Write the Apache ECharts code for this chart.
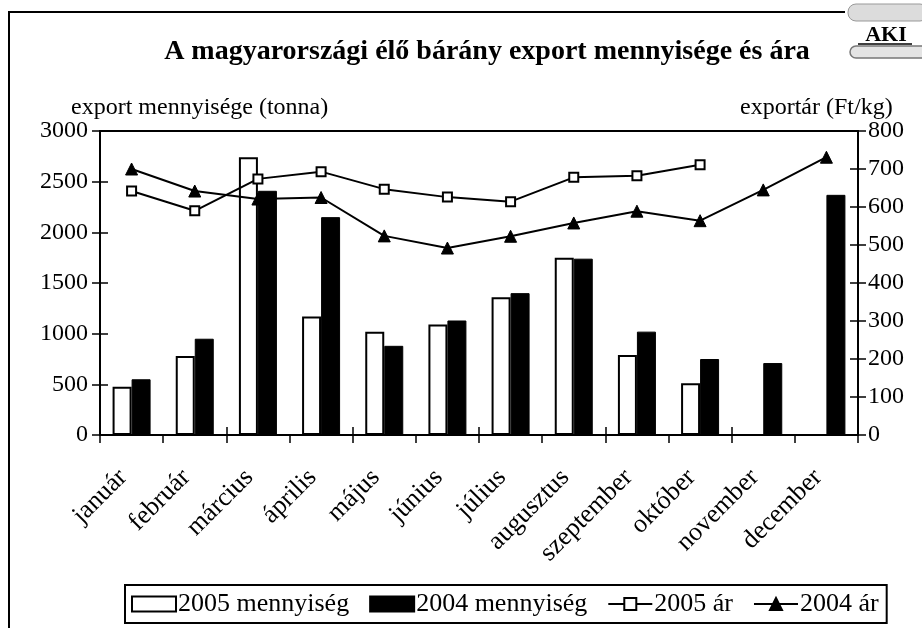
<!DOCTYPE html>
<html>
<head>
<meta charset="utf-8">
<script src="https://cdn.jsdelivr.net/npm/echarts@6/dist/echarts.min.js"></script>
<style>html,body{margin:0;padding:0;background:#fff}#c{width:922px;height:628px}</style>
</head>
<body>
<div id="c"></div>
<script>
const months = ['január','február','március','április','május','június','július','augusztus','szeptember','október','november','december'];
const qty2005 = [475, 780, 2740, 1170, 1020, 1090, 1360, 1750, 790, 510, null, null];
const qty2004 = [550, 950, 2410, 2150, 880, 1130, 1400, 1740, 1020, 750, 710, 2370];
const price2005 = [642, 590, 674, 693, 647, 626, 614, 678, 682, 711, null, null];
const price2004 = [700, 642, 621, 625, 524, 492, 523, 558, 589, 564, 645, 731];
const leftTicks = {min: 0, max: 3000, interval: 500};
const rightTicks = {min: 0, max: 800, interval: 100};
const titleText = 'A magyarországi élő bárány export mennyisége és ára';
const leftName = 'export mennyisége (tonna)';
const rightName = 'exportár (Ft/kg)';
const names = ['2005 mennyiség', '2004 mennyiség', '2005 ár', '2004 ár'];

const FONT = 'Liberation Serif, Times New Roman, serif';
const chart = echarts.init(document.getElementById('c'), null, {renderer: 'canvas'});
const tickStyle = {color: '#000', width: 1.5};
const hiddenAxis = {axisLine: {show: false}, axisLabel: {show: false}, splitLine: {show: false}};
const plain = v => String(v);
chart.setOption({
  backgroundColor: '#fff',
  animation: false,
  textStyle: {fontFamily: FONT, color: '#000'},
  title: [
    {text: titleText, left: 482, top: 33, textAlign: 'center', textStyle: {fontFamily: FONT, fontSize: 28, fontWeight: 'bold', color: '#000'}},
    {text: leftName, left: 66, top: 91, textStyle: {fontFamily: FONT, fontSize: 24, fontWeight: 'normal', color: '#000'}},
    {text: rightName, left: 735, top: 91, textStyle: {fontFamily: FONT, fontSize: 24, fontWeight: 'normal', color: '#000'}}
  ],
  grid: {left: 100, right: 64, top: 131, bottom: 193, show: true, borderColor: '#000', borderWidth: 2, backgroundColor: 'transparent'},
  legend: {
    left: 125, top: 585, padding: [6, 8, 6, 6], itemGap: 20,
    borderColor: '#000', borderWidth: 2, itemWidth: 44, itemHeight: 15,
    textStyle: {fontFamily: FONT, fontSize: 26, color: '#000', padding: [0, 0, 0, -3]},
    data: [
      {name: names[0], icon: 'rect'},
      {name: names[1], icon: 'rect'},
      {name: names[2]},
      {name: names[3]}
    ]
  },
  xAxis: [
    {type: 'category', data: months, position: 'bottom', boundaryGap: true,
     axisLine: {lineStyle: {color: '#000', width: 2}},
     axisTick: {show: true, length: 8, lineStyle: tickStyle},
     axisLabel: {rotate: 45, fontFamily: FONT, fontSize: 26, color: '#000', margin: 30, padding: [0, 12, 0, 0], interval: 0},
     splitLine: {show: false}},
    Object.assign({type: 'category', data: months, position: 'bottom', boundaryGap: true,
     axisTick: {show: true, inside: true, length: 8, lineStyle: tickStyle}}, hiddenAxis)
  ],
  yAxis: [
    {type: 'value', position: 'left', min: leftTicks.min, max: leftTicks.max, interval: leftTicks.interval,
     axisLine: {show: true, lineStyle: {color: '#000', width: 2}},
     axisTick: {show: true, length: 8, lineStyle: tickStyle},
     axisLabel: {fontFamily: FONT, fontSize: 24, color: '#000', margin: 12, formatter: plain},
     splitLine: {show: false}},
    {type: 'value', position: 'right', min: rightTicks.min, max: rightTicks.max, interval: rightTicks.interval,
     axisLine: {show: true, lineStyle: {color: '#000', width: 2}},
     axisTick: {show: true, length: 8, lineStyle: tickStyle},
     axisLabel: {fontFamily: FONT, fontSize: 24, color: '#000', margin: 10, formatter: plain},
     splitLine: {show: false}},
    Object.assign({type: 'value', position: 'left', min: leftTicks.min, max: leftTicks.max, interval: leftTicks.interval,
     axisTick: {show: true, inside: true, length: 8, lineStyle: tickStyle}}, hiddenAxis),
    Object.assign({type: 'value', position: 'right', min: rightTicks.min, max: rightTicks.max, interval: rightTicks.interval,
     axisTick: {show: true, inside: true, length: 8, lineStyle: tickStyle}}, hiddenAxis)
  ],
  series: [
    {name: names[0], type: 'bar', data: qty2005, barWidth: 19, barGap: '0%', yAxisIndex: 0,
     itemStyle: {color: '#fff', borderColor: '#000', borderWidth: 2}},
    {name: names[1], type: 'bar', data: qty2004, barWidth: 19, barGap: '0%', yAxisIndex: 0,
     itemStyle: {color: '#000', borderColor: '#000', borderWidth: 1}},
    {name: names[2], type: 'line', data: price2005, yAxisIndex: 1, symbol: 'rect', symbolSize: 9,
     connectNulls: false, lineStyle: {color: '#000', width: 2},
     itemStyle: {color: '#fff', borderColor: '#000', borderWidth: 2}, z: 5},
    {name: names[3], type: 'line', data: price2004, yAxisIndex: 1, symbol: 'triangle', symbolSize: 12,
     lineStyle: {color: '#000', width: 2},
     itemStyle: {color: '#000', borderColor: '#000', borderWidth: 1}, z: 5}
  ],
  graphic: [
    {type: 'polyline', shape: {points: [[9, 640], [9, 12], [845, 12]]}, style: {stroke: '#000', fill: null, lineWidth: 2}, silent: true},
    {type: 'rect', shape: {x: 848, y: 4, width: 80, height: 17, r: 8}, style: {fill: '#dcdcdc', stroke: '#999', lineWidth: 1}, silent: true},
    {type: 'text', style: {text: 'AKI', x: 886, y: 35, align: 'center', verticalAlign: 'middle', font: 'bold 22px Liberation Serif', fill: '#000', letterSpacing: 6}, silent: true},
    {type: 'line', shape: {x1: 858, y1: 44, x2: 912, y2: 44}, style: {stroke: '#000', lineWidth: 1.5}, silent: true},
    {type: 'rect', shape: {x: 850, y: 46, width: 80, height: 12, r: 6}, style: {fill: '#e4e4e4', stroke: '#777', lineWidth: 1.5}, silent: true}
  ]
});
</script>
</body>
</html>
